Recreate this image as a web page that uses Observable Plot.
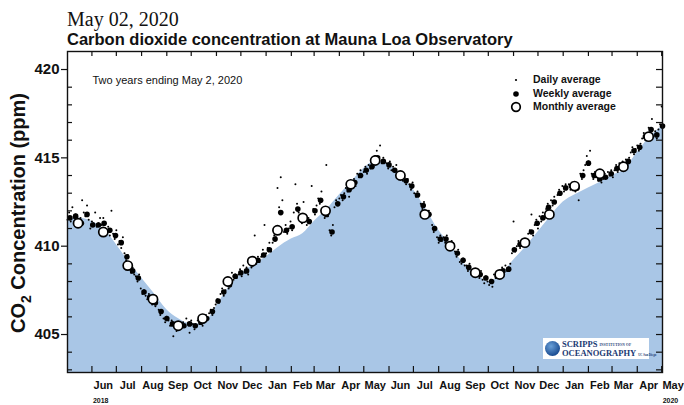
<!DOCTYPE html>
<html>
<head>
<meta charset="utf-8">
<script src="https://cdn.jsdelivr.net/npm/d3@7"></script>
<script src="https://cdn.jsdelivr.net/npm/@observablehq/plot@0.6"></script>
<style>
  html, body { margin: 0; padding: 0; background: #fff; }
  #wrap { position: relative; width: 684px; height: 405px; overflow: hidden; font-family: "Liberation Sans", Arial, sans-serif; }
  #date { position: absolute; left: 67px; top: 9px; font: 20px/1 "Liberation Serif", "Times New Roman", serif; color: #111; white-space: nowrap; }
  #sub { position: absolute; left: 67px; top: 31px; font: bold 16.5px/1 "Liberation Sans", Arial, sans-serif; color: #111; white-space: nowrap; }
  #chart { position: absolute; left: 0; top: 45px; }
  #ylab { position: absolute; left: 18px; top: 213px; transform: translate(-50%, -50%) rotate(-90deg); font: bold 20px/1 "Liberation Sans", Arial, sans-serif; white-space: nowrap; color: #111; }
  #ylab sub { font-size: 14px; vertical-align: -6px; line-height: 0; }
  #legend { position: absolute; left: 508px; top: 73px; font: bold 10.5px/1 "Liberation Sans", Arial, sans-serif; color: #111; }
  #legend .row { position: relative; height: 13.7px; white-space: nowrap; }
  #legend svg { position: absolute; left: 0; top: 0; }
  #legend span { position: absolute; left: 25px; top: 1px; }
  #logo { position: absolute; left: 543px; top: 338px; width: 106px; height: 21px; background: #fff; }
  #logo .globe { position: absolute; left: 2px; top: 3px; width: 15px; height: 15px; border-radius: 50%; background: radial-gradient(circle at 40% 35%, #6aa0d8, #1d4f94 70%); }
  #logo .t1 { position: absolute; left: 19px; top: 2px; font: bold 8.5px/1 "Liberation Serif", serif; color: #1b3a73; white-space: nowrap; }
  #logo .t1 small { font-size: 3.5px; letter-spacing: 0.2px; margin-left: 2px; vertical-align: 1px; }
  #logo .t2 { position: absolute; left: 19px; top: 11px; font: bold 8.5px/1 "Liberation Serif", serif; color: #1b3a73; white-space: nowrap; }
  #logo .t2 small { font-size: 3px; margin-left: 2px; }
</style>
</head>
<body>
<div id="wrap">
  <div id="date">May 02, 2020</div>
  <div id="sub">Carbon dioxide concentration at Mauna Loa Observatory</div>
  <div id="chart"></div>
  <div id="ylab">CO<sub>2</sub> Concentration (ppm)</div>
  <div id="legend"></div>
  <div id="logo"><div class="globe"></div><div class="t1">SCRIPPS<small>INSTITUTION OF</small></div><div class="t2">OCEANOGRAPHY<small>UC San Diego</small></div></div>
</div>
<script>
// ---------- data ----------
const startDate = "2018-05-02";
const endDate = "2020-05-02";
const yDomain = [402.85, 421.02];

// smoothed fit (upper edge of shaded area)
const areaDates = ["2018-05-02","2018-05-15","2018-06-01","2018-06-15","2018-07-01","2018-07-15","2018-08-01","2018-08-15","2018-09-01","2018-09-15","2018-10-01","2018-10-15","2018-11-01","2018-11-15","2018-12-01","2018-12-15","2019-01-01","2019-01-15","2019-02-01","2019-02-15","2019-03-01","2019-03-15","2019-04-01","2019-04-15","2019-05-01","2019-05-15","2019-06-01","2019-06-15","2019-07-01","2019-07-15","2019-08-01","2019-08-15","2019-09-01","2019-09-15","2019-10-01","2019-10-15","2019-11-01","2019-11-15","2019-12-01","2019-12-15","2020-01-01","2020-01-15","2020-02-01","2020-02-15","2020-03-01","2020-03-15","2020-04-01","2020-04-15","2020-05-02"];
const areaPpm = [411.5,411.6,411.4,411.0,410.1,409.2,408.2,407.4,406.4,405.9,405.6,405.6,406.6,407.6,408.4,408.9,409.4,409.9,410.4,410.7,411.4,412.0,412.9,413.6,414.4,414.8,414.6,414.0,413.2,412.2,410.9,410.1,409.0,408.5,408.0,408.3,409.2,409.9,410.8,411.6,412.5,412.9,413.3,413.6,414.0,414.3,415.3,416.1,416.8];

// monthly averages (plotted mid-month), May 2018 .. Apr 2020
const monthKeys = ["2018-05","2018-06","2018-07","2018-08","2018-09","2018-10","2018-11","2018-12","2019-01","2019-02","2019-03","2019-04","2019-05","2019-06","2019-07","2019-08","2019-09","2019-10","2019-11","2019-12","2020-01","2020-02","2020-03","2020-04"];
const monthlyPpm = [411.3,410.8,408.9,407.0,405.5,405.9,408.0,409.15,410.9,411.6,412.0,413.5,414.85,414.0,411.8,410.0,408.5,408.4,410.2,411.8,413.4,414.1,414.5,416.2];

// weekly averages, one per week starting 2018-05-02
const weeklyPpm = [411.6,411.7,411.3,411.8,411.2,411.2,411.3,410.9,410.6,410.2,409.4,408.6,408.2,407.4,407.1,406.8,406.3,405.9,405.6,405.5,405.5,405.6,405.5,405.7,405.9,406.3,406.9,407.4,407.8,408.3,408.5,408.6,409.0,409.2,409.5,409.8,410.4,411.9,410.9,411.1,412.1,411.5,411.4,412.0,412.6,411.8,410.8,412.4,412.8,413.2,413.6,414.0,414.3,414.5,415.0,414.8,414.6,414.3,414.0,413.7,413.4,412.9,412.3,411.8,411.0,410.4,410.4,410.1,409.6,409.2,408.8,408.5,408.4,408.2,408.0,408.3,408.6,408.7,409.8,410.1,410.2,410.8,411.3,411.6,412.2,412.5,413.0,413.3,413.4,413.3,414.0,414.7,414.0,413.8,413.9,414.1,414.4,414.6,414.8,415.4,415.6,416.2,416.6,416.3,416.8];

// daily averages, every second day starting 2018-05-02
const dailyPpm = [
411.5,411.9,411.4,412.2,411.6,411.8,411.5, 411.2,411.6,412.6,411.9,411.7,412.3,411.5,
411.0,411.4,411.3,411.9,411.1,411.3,411.6, 411.2,411.6,411.0,410.8,411.1,410.6,412.0,
410.7,410.4,410.9,410.1,410.3,409.9,410.5, 409.6,409.2,409.5,408.9,408.5,408.8,408.4,
408.3,408.0,408.4,407.6,407.3,407.5,407.2, 407.0,407.3,406.9,406.7,406.9,406.6,407.0,
406.4,406.1,406.3,405.9,405.7,406.0,405.8, 405.5,405.8,404.9,405.6,405.2,405.5,405.7,
405.4,405.7,405.5,405.9,405.6,405.1,405.8, 405.6,405.3,405.5,405.8,405.6,405.9,405.5,
405.8,406.1,405.9,406.2,406.4,406.1,406.5, 406.7,407.0,406.8,407.3,407.6,407.2,407.5,
407.9,407.6,408.0,408.5,408.1,408.4,408.2, 408.4,408.7,408.3,408.9,408.5,408.8,408.4,
409.1,408.8,409.3,410.6,409.0,409.4,409.1, 409.4,409.8,411.2,409.6,409.9,410.2,409.7,
410.2,410.6,410.5,413.3,412.2,413.9,412.6, 410.8,411.2,410.7,411.0,411.4,410.9,411.9,
413.5,412.4,411.9,411.6,411.3,412.5,411.5, 411.2,411.6,411.3,413.4,412.1,411.8,412.3,
412.7,412.4,413.1,412.0,411.6,414.6,411.7, 410.9,410.6,411.2,412.2,412.6,412.3,412.7,
412.9,412.6,413.0,413.3,413.1,412.8,413.4, 413.5,413.8,413.4,414.1,413.9,414.3,414.0,
414.2,414.5,414.1,414.6,414.4,414.8,414.5, 415.1,415.4,414.9,415.7,414.7,415.0,414.8,
414.7,414.4,414.8,414.3,414.5,414.2,414.6, 414.1,413.8,414.2,413.7,413.9,413.5,413.8,
413.5,413.2,413.6,413.0,412.8,413.1,412.9, 412.4,412.1,412.5,411.9,411.6,412.0,411.8,
411.2,410.8,411.0,410.5,410.2,410.6,410.3, 410.5,410.2,410.6,410.0,409.8,410.3,410.1,
409.7,409.4,409.8,409.1,409.0,409.3,408.9, 408.9,408.6,409.0,408.4,408.3,408.7,408.5,
408.5,408.2,408.6,408.1,407.9,408.3,408.0, 407.8,408.1,407.7,408.4,408.2,408.5,408.3,
408.5,408.8,408.4,408.9,408.6,408.8,409.0, 409.6,411.4,409.7,410.0,410.3,409.9,410.2,
410.1,410.4,410.0,410.7,410.9,411.8,410.6, 411.2,411.5,411.0,411.7,411.4,411.9,411.6,
412.1,412.4,412.0,412.6,412.3,412.8,412.5, 412.9,413.2,413.0,413.4,413.1,413.5,413.3,
413.5,413.2,413.6,413.3,413.1,413.4,412.6, 414.1,413.8,414.3,414.6,415.1,414.8,415.4,
414.1,413.8,414.2,413.9,413.7,414.0,413.6, 413.8,414.1,413.9,414.2,414.0,414.3,413.9,
414.3,414.6,414.2,414.7,414.5,414.8,414.6, 414.9,414.6,415.0,415.3,415.6,415.2,415.5,
415.7,415.4,415.8,416.1,416.4,416.0,416.3, 416.7,416.4,417.2,416.2,416.5,416.1,416.6,
416.9,417.9
];

const monthTickLabels = ["Jun","Jul","Aug","Sep","Oct","Nov","Dec","Jan","Feb","Mar","Apr","May","Jun","Jul","Aug","Sep","Oct","Nov","Dec","Jan","Feb","Mar","Apr","May"];
const yearLabels = [{month: "2018-06", text: "2018"}, {month: "2020-05", text: "2020"}];
const yMajor = [405, 410, 415, 420];
const yMinor = [403,404,406,407,408,409,411,412,413,414,416,417,418,419];

// ---------- build ----------
const DAY = 864e5;
const t0 = new Date(startDate + "T00:00Z");
const t1 = new Date(endDate + "T00:00Z");
const area = areaDates.map((d, i) => ({date: new Date(d + "T00:00Z"), ppm: areaPpm[i]}));
const monthly = monthKeys.map((m, i) => ({date: new Date(m + "-15T00:00Z"), ppm: monthlyPpm[i]}));
const weekly = weeklyPpm.map((v, i) => ({date: new Date(+t0 + (7 * i + 3) * DAY), ppm: v}));
const daily = dailyPpm.map((v, i) => ({date: new Date(+t0 + 2 * i * DAY), ppm: v}));
const monthStarts = d3.utcMonth.range(new Date("2018-06-01T00:00Z"), new Date("2020-05-02T00:00Z"));
const labels = monthStarts.map((d, i) => ({date: new Date(+d + 14 * DAY), text: monthTickLabels[i]}));
const years = yearLabels.map(y => ({date: new Date(y.month + "-01T00:00Z"), text: y.text}));

const W = 684, H = 360, mT = 6, mB = 33, mL = 67, mR = 22;
const innerW = W - mL - mR, innerH = H - mT - mB;

const chart = Plot.plot({
  width: W, height: H,
  marginTop: mT, marginBottom: mB, marginLeft: mL, marginRight: mR,
  style: {fontFamily: "'Liberation Sans', Arial, sans-serif", color: "#111", background: "transparent", overflow: "visible"},
  x: {type: "utc", domain: [t0, t1], axis: null},
  y: {domain: yDomain},
  marks: [
    Plot.areaY(area, {x: "date", y1: yDomain[0], y2: "ppm", fill: "#a9c6e6", curve: "monotone-x"}),
    Plot.dot(daily, {x: "date", y: "ppm", r: 1.0, fill: "#000"}),
    Plot.dot(weekly, {x: "date", y: "ppm", r: 2.8, fill: "#000"}),
    Plot.dot(monthly, {x: "date", y: "ppm", r: 4.6, fill: "#fff", stroke: "#000", strokeWidth: 1.7}),
    Plot.frame({stroke: "#111", strokeWidth: 1.4}),
    // month ticks: bottom and top, inward
    Plot.tickX(monthStarts, {x: d => d, insetTop: innerH - 6, stroke: "#111", strokeWidth: 1.2}),
    Plot.tickX(monthStarts, {x: d => d, insetBottom: innerH - 5, stroke: "#111", strokeWidth: 1.2}),
    // ppm ticks
    Plot.tickY(yMinor, {y: d => d, insetRight: innerW - 5, stroke: "#111", strokeWidth: 1.2}),
    Plot.tickY(yMinor.concat(yMajor), {y: d => d, insetLeft: innerW - 6, stroke: "#111", strokeWidth: 1.2}),
    Plot.axisY(yMajor, {tickSize: 6, tickPadding: 2, fontSize: 15, fontWeight: "bold", label: null, strokeWidth: 1.2}),
    // month labels
    Plot.text(labels, {x: "date", text: "text", frameAnchor: "bottom", dy: 16, fontSize: 11, fontWeight: "bold"}),
    Plot.text(years, {x: "date", text: "text", frameAnchor: "bottom", dy: 30, dx: 1, textAnchor: "start", fontSize: 7, fontWeight: "bold"}),
    Plot.text(["Two years ending May 2, 2020"], {frameAnchor: "top-left", dx: 25, dy: 25, textAnchor: "start", fontSize: 11})
  ]
});
document.getElementById("chart").appendChild(chart);

// legend
const legendItems = [
  {label: "Daily average", r: 1.1, fill: "#000", stroke: "none", sw: 0},
  {label: "Weekly average", r: 2.8, fill: "#000", stroke: "none", sw: 0},
  {label: "Monthly average", r: 4.3, fill: "#fff", stroke: "#000", sw: 1.7}
];
const legend = document.getElementById("legend");
for (const it of legendItems) {
  const row = document.createElement("div");
  row.className = "row";
  row.innerHTML = `<svg width="16" height="14"><circle cx="8" cy="7" r="${it.r}" fill="${it.fill}" stroke="${it.stroke}" stroke-width="${it.sw}"/></svg><span>${it.label}</span>`;
  legend.appendChild(row);
}
</script>
</body>
</html>
